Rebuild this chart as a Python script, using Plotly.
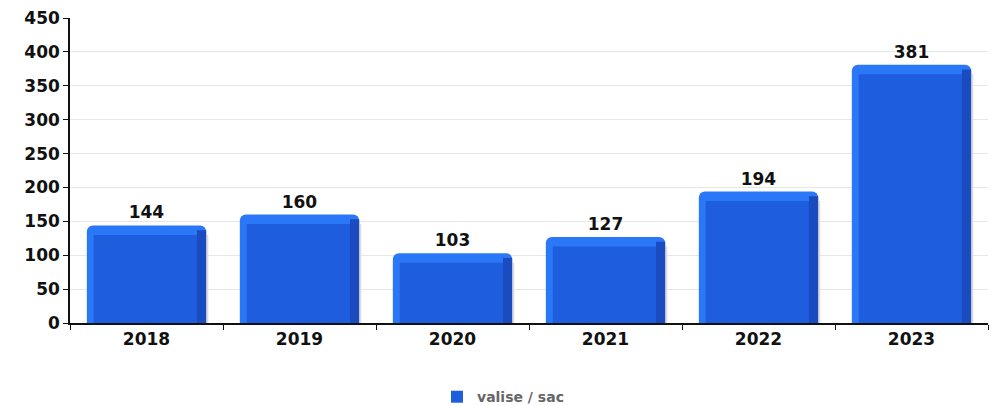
import plotly.graph_objects as go

years = ["2018", "2019", "2020", "2021", "2022", "2023"]
values = [144, 160, 103, 127, 194, 381]
series_name = "valise / sac"

# style constants for the bevelled (pseudo-3D) bar look
BEVEL = 14          # depth of the lighter top band, in data units
BAR_W = 0.78        # bar width in category units
LEFT_W = 0.045
RIGHT_W = 0.06

face_vals = [v - BEVEL for v in values]
side_vals = [v - BEVEL / 2 for v in values]

fig = go.Figure()
# light outer body (top band + left highlight)
fig.add_trace(go.Bar(
    x=years, y=values, name=series_name, showlegend=False,
    marker=dict(color="#2a78f8", line=dict(width=0), cornerradius=6),
    width=BAR_W, offset=-BAR_W / 2,
    text=[str(v) for v in values], textposition="outside",
    textfont=dict(family="DejaVu Sans", size=17, color="#111111", weight="bold"),
    cliponaxis=False, hoverinfo="skip",
))
# faint shadow on the right
fig.add_trace(go.Bar(
    x=years, y=face_vals, showlegend=False,
    marker=dict(color="#dcdcdc", line=dict(width=0)),
    width=0.014, offset=BAR_W / 2, hoverinfo="skip",
))
# main face
fig.add_trace(go.Bar(
    x=years, y=face_vals, name=series_name, showlegend=True,
    marker=dict(color="#1f5ddf", line=dict(width=0)),
    width=BAR_W - LEFT_W - RIGHT_W, offset=-BAR_W / 2 + LEFT_W,
    hoverinfo="skip",
))
# darker right side
fig.add_trace(go.Bar(
    x=years, y=side_vals, showlegend=False,
    marker=dict(color="#1a4bbf", line=dict(width=0)),
    width=RIGHT_W, offset=BAR_W / 2 - RIGHT_W,
    hoverinfo="skip",
))

# the page body has an 8px default margin, so the figure is sized to fit the window
fig.update_layout(
    width=990, height=398,
    margin=dict(l=62, r=10, t=10, b=83, autoexpand=False),
    paper_bgcolor="white", plot_bgcolor="white",
    font=dict(family="DejaVu Sans", size=13, color="#111111"),
    barmode="overlay",
    showlegend=True,
    legend=dict(orientation="h", xref="container", x=0.5, xanchor="center",
                y=-0.243, yanchor="middle", itemwidth=30,
                font=dict(family="DejaVu Sans", size=14, color="#666666", weight="bold")),
)
fig.update_yaxes(range=[0, 450], dtick=50, showgrid=True, gridcolor="#e6e6e6",
                 showline=True, linecolor="#111111", linewidth=1.5,
                 ticks="outside", ticklen=5, tickcolor="#111111", automargin=False,
                 ticklabeloverflow="allow",
                 tickfont=dict(family="DejaVu Sans", size=17, color="#111111", weight="bold"),
                 zeroline=False)
fig.update_xaxes(showline=True, linecolor="#111111", linewidth=1.5,
                 ticks="outside", ticklen=5, tickcolor="#111111", tickson="boundaries",
                 automargin=False, ticklabeloverflow="allow",
                 tickfont=dict(family="DejaVu Sans", size=17, color="#111111", weight="bold"),
                 showgrid=False)

fig.write_html("out.html")
